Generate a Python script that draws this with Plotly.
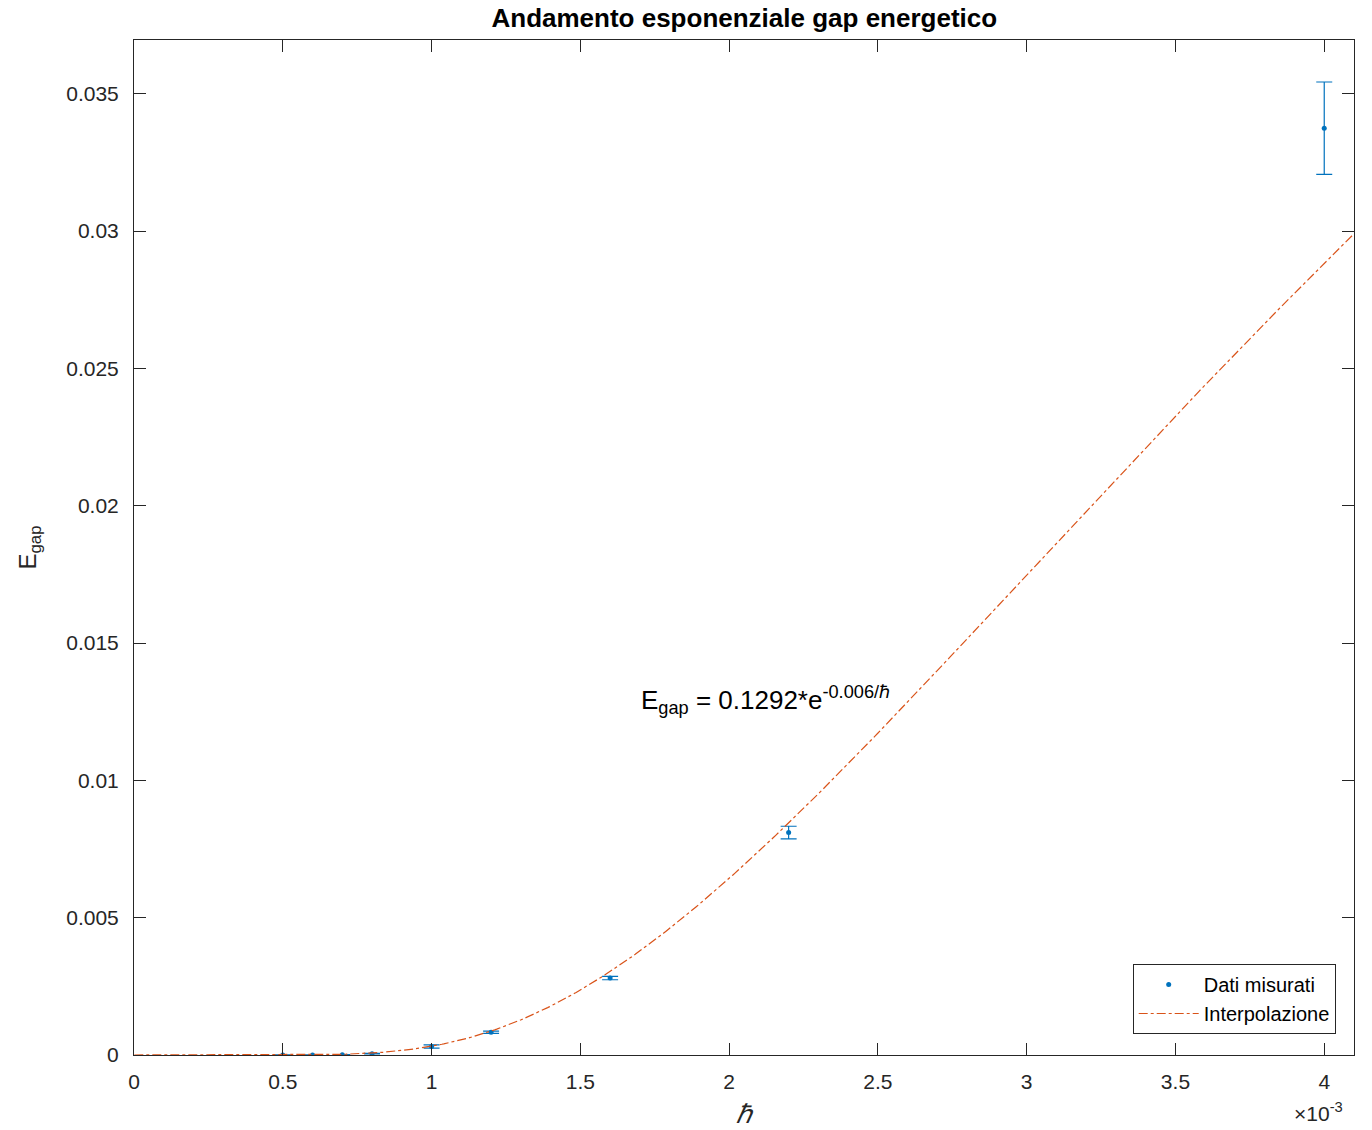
import numpy as np
import plotly.graph_objects as go

# Measured data (hbar, E_gap, error)
hbar = [0.0005, 0.0006, 0.0007, 0.0008, 0.0010, 0.0012, 0.0016, 0.0022, 0.0040]
egap = [0.0000005, 0.000002, 0.00001, 0.00005, 0.00031, 0.00083, 0.00280, 0.00810, 0.03375]
err = [0.000003, 0.000003, 0.000005, 0.00001, 0.00006, 0.00004, 0.00006, 0.00023, 0.00168]

# Fit parameters: E_gap = A * exp(-B / hbar)
fit_A = 0.1292
fit_B = 0.006

x_tickvals = [0, 0.0005, 0.001, 0.0015, 0.002, 0.0025, 0.003, 0.0035, 0.004]
x_ticktext = ["0", "0.5", "1", "1.5", "2", "2.5", "3", "3.5", "4"]
y_tickvals = [0, 0.005, 0.01, 0.015, 0.02, 0.025, 0.03, 0.035]
y_ticktext = ["0", "0.005", "0.01", "0.015", "0.02", "0.025", "0.03", "0.035"]

xfit = np.linspace(1e-6, 0.0041, 600)
yfit = fit_A * np.exp(-fit_B / xfit)

blue = "#0072BD"
orange = "#D95319"
axcol = "#262626"
font = "Liberation Sans, Arial, sans-serif"

fig = go.Figure()
fig.add_trace(go.Scatter(
    x=hbar, y=egap, mode="markers", name="Dati misurati",
    marker=dict(color=blue, size=5),
    error_y=dict(type="data", array=err, visible=True, color=blue, thickness=1.2, width=8),
))
fig.add_trace(go.Scatter(
    x=xfit, y=yfit, mode="lines", name="Interpolazione",
    line=dict(color=orange, width=1.2, dash="dashdot"),
))

fig.add_annotation(
    x=0.001696, y=0.01293, xref="x", yref="y", xanchor="left", yanchor="middle",
    text="E<sub>gap</sub> = 0.1292*e<sup>-0.006/ℏ</sup>", showarrow=False,
    font=dict(size=26, color="black", family=font),
)
fig.add_annotation(
    x=0.9926, y=-0.071, xref="paper", yref="paper", xanchor="right", yanchor="bottom",
    text="×10<sup>-3</sup>", showarrow=False,
    font=dict(size=21, color=axcol, family=font),
)

fig.update_layout(
    width=1372, height=1130,
    margin=dict(l=134, r=18, t=40, b=75, autoexpand=False),
    paper_bgcolor="white", plot_bgcolor="white",
    font=dict(family=font, color=axcol, size=20),
    title=dict(text="<b>Andamento esponenziale gap energetico</b>", x=0.5425, xanchor="center",
               y=0.984, yanchor="middle", font=dict(size=26, color="black", family=font)),
    showlegend=True,
    legend=dict(x=0.985, y=0.0207, xanchor="right", yanchor="bottom",
                bgcolor="white", bordercolor=axcol, borderwidth=1, itemwidth=60,
                font=dict(size=20, color="black", family=font)),
    xaxis=dict(range=[0, 0.0041], tickvals=x_tickvals, ticktext=x_ticktext,
               showgrid=False, zeroline=False, showline=True, linecolor=axcol, linewidth=1,
               mirror="ticks", ticks="inside", ticklen=12, tickcolor=axcol, automargin=False,
               ticklabelstandoff=8, tickfont=dict(size=21),
               title=dict(text="<i>ℏ</i>", font=dict(size=26, color=axcol), standoff=12)),
    yaxis=dict(range=[0, 0.03696], tickvals=y_tickvals, ticktext=y_ticktext,
               showgrid=False, zeroline=False, showline=True, linecolor=axcol, linewidth=1,
               mirror="ticks", ticks="inside", ticklen=12, tickcolor=axcol, automargin=False,
               ticklabelstandoff=10, tickfont=dict(size=21),
               title=dict(text="E<sub>gap</sub>", font=dict(size=24, color=axcol), standoff=22)),
)

fig.write_html("out.html")
